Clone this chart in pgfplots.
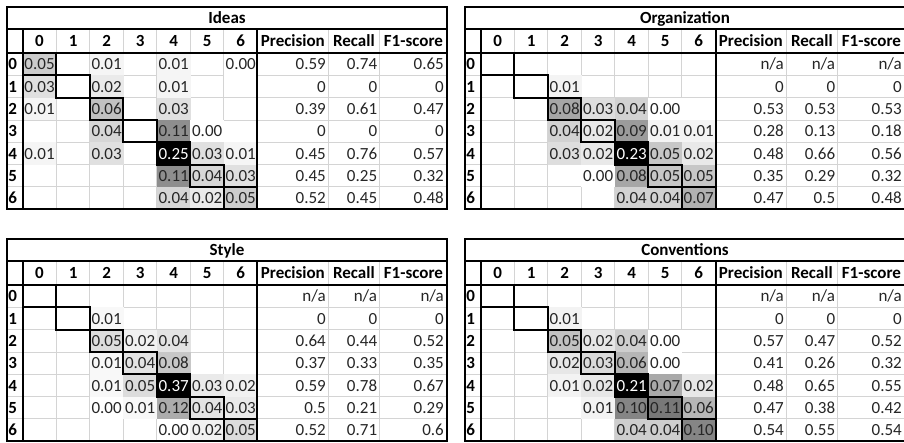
\documentclass[border=0pt]{standalone}
\usepackage{pgfplots}
\pgfplotsset{compat=1.18}
\usepackage{pgfplotstable}
\usepackage{fontspec}
\setmainfont{Carlito}
\definecolor{gridc}{HTML}{D4D4D4}
\definecolor{txt}{HTML}{262626}
\pgfdeclareplotmark{cell}{\pgfpathrectanglecorners{\pgfpoint{-8.45pt}{-5.65pt}}{\pgfpoint{8.45pt}{5.65pt}}\pgfusepathqfill}
\newcommand\cf{\fontsize{8.5}{10}\selectfont}

\pgfplotstableread{
c r v
0 0 0.05
2 0 0.01
4 0 0.01
6 0 0.00
0 1 0.03
2 1 0.02
4 1 0.01
0 2 0.01
2 2 0.06
4 2 0.03
2 3 0.04
4 3 0.11
5 3 0.00
0 4 0.01
2 4 0.03
4 4 0.25
5 4 0.03
6 4 0.01
4 5 0.11
5 5 0.04
6 5 0.03
4 6 0.04
5 6 0.02
6 6 0.05
}\ideasM
\pgfplotstableread{
r p rc f
0 0.59 0.74 0.65
1 0 0 0
2 0.39 0.61 0.47
3 0 0 0
4 0.45 0.76 0.57
5 0.45 0.25 0.32
6 0.52 0.45 0.48
}\ideasS

\pgfplotstableread{
c r v
2 1 0.01
2 2 0.08
3 2 0.03
4 2 0.04
5 2 0.00
2 3 0.04
3 3 0.02
4 3 0.09
5 3 0.01
6 3 0.01
2 4 0.03
3 4 0.02
4 4 0.23
5 4 0.05
6 4 0.02
3 5 0.00
4 5 0.08
5 5 0.05
6 5 0.05
4 6 0.04
5 6 0.04
6 6 0.07
}\orgM
\pgfplotstableread{
r p rc f
0 n/a n/a n/a
1 0 0 0
2 0.53 0.53 0.53
3 0.28 0.13 0.18
4 0.48 0.66 0.56
5 0.35 0.29 0.32
6 0.47 0.5 0.48
}\orgS

\pgfplotstableread{
c r v
2 1 0.01
2 2 0.05
3 2 0.02
4 2 0.04
2 3 0.01
3 3 0.04
4 3 0.08
2 4 0.01
3 4 0.05
4 4 0.37
5 4 0.03
6 4 0.02
2 5 0.00
3 5 0.01
4 5 0.12
5 5 0.04
6 5 0.03
4 6 0.00
5 6 0.02
6 6 0.05
}\styM
\pgfplotstableread{
r p rc f
0 n/a n/a n/a
1 0 0 0
2 0.64 0.44 0.52
3 0.37 0.33 0.35
4 0.59 0.78 0.67
5 0.5 0.21 0.29
6 0.52 0.71 0.6
}\styS

\pgfplotstableread{
c r v
2 1 0.01
2 2 0.05
3 2 0.02
4 2 0.04
5 2 0.00
2 3 0.02
3 3 0.03
4 3 0.06
5 3 0.00
2 4 0.01
3 4 0.02
4 4 0.21
5 4 0.07
6 4 0.02
3 5 0.01
4 5 0.10
5 5 0.11
6 5 0.06
4 6 0.04
5 6 0.04
6 6 0.10
}\conM
\pgfplotstableread{
r p rc f
0 n/a n/a n/a
1 0 0 0
2 0.57 0.47 0.52
3 0.41 0.26 0.32
4 0.48 0.65 0.55
5 0.47 0.38 0.42
6 0.54 0.55 0.54
}\conS

\tikzset{txtnode/.style={font=\cf, inner sep=0pt, text height=5.5pt, text depth=0pt},
  hd/.style={txtnode, font=\cf\bfseries, text=black}}
\pgfplotsset{panel/.style={hide axis, scale only axis, width=220.28pt, height=101.13pt,
  xmin=-0.48, xmax=12.66, ymin=-2.07, ymax=7, y dir=reverse, clip=false, anchor=north west,
  colormap={bw}{rgb255=(255,255,255) rgb255=(0,0,0)}, point meta min=0},
  thick line/.style={black, line width=1pt, mark=none, line cap=rect, line join=miter}}

\newcommand\panel[5]{%
\begin{axis}[panel, at={#1}, point meta max=#5]
% thin grid
\draw[gridc, line width=0.5pt] (axis cs:1,-1.08) -- (axis cs:1,7)
  (axis cs:2,-1.08) -- (axis cs:2,7) (axis cs:3,-1.08) -- (axis cs:3,7)
  (axis cs:4,-1.08) -- (axis cs:4,7) (axis cs:5,-1.08) -- (axis cs:5,7)
  (axis cs:6,-1.08) -- (axis cs:6,7) (axis cs:9.11,-1.08) -- (axis cs:9.11,7)
  (axis cs:10.64,-1.08) -- (axis cs:10.64,7)
  (axis cs:-0.48,1) -- (axis cs:12.66,1) (axis cs:-0.48,2) -- (axis cs:12.66,2)
  (axis cs:-0.48,3) -- (axis cs:12.66,3) (axis cs:-0.48,4) -- (axis cs:12.66,4)
  (axis cs:-0.48,5) -- (axis cs:12.66,5) (axis cs:-0.48,6) -- (axis cs:12.66,6);
% shaded cells
\addplot[scatter, only marks, mark=cell, point meta=explicit]
  table[x expr=\thisrow{c}+0.5, y expr=\thisrow{r}+0.5, meta=v] {#3};
% cell texts
\addplot[draw=none, mark=none, nodes near coords, point meta=explicit symbolic,
  restrict expr to domain={\thisrow{v}}{0:0.2},
  every node near coord/.append style={txtnode, anchor=center, text=txt}]
  table[x expr=\thisrow{c}+0.5, y expr=\thisrow{r}+0.5, meta=v] {#3};
\addplot[draw=none, mark=none, nodes near coords, point meta=explicit symbolic,
  restrict expr to domain={\thisrow{v}}{0.2:1},
  every node near coord/.append style={txtnode, anchor=center, text=white}]
  table[x expr=\thisrow{c}+0.5, y expr=\thisrow{r}+0.5, meta=v] {#3};
% metrics
\addplot[draw=none, mark=none, nodes near coords, point meta=explicit symbolic,
  every node near coord/.append style={txtnode, anchor=east, text=txt}]
  table[x expr=9.05, y expr=\thisrow{r}+0.5, meta=p] {#4};
\addplot[draw=none, mark=none, nodes near coords, point meta=explicit symbolic,
  every node near coord/.append style={txtnode, anchor=east, text=txt}]
  table[x expr=10.58, y expr=\thisrow{r}+0.5, meta=rc] {#4};
\addplot[draw=none, mark=none, nodes near coords, point meta=explicit symbolic,
  every node near coord/.append style={txtnode, anchor=east, text=txt}]
  table[x expr=12.57, y expr=\thisrow{r}+0.5, meta=f] {#4};
% headers
\node[hd] at (axis cs:6.09,-1.575) {#2};
\node[hd] at (axis cs:0.5,-0.54) {0};
\node[hd] at (axis cs:1.5,-0.54) {1};
\node[hd] at (axis cs:2.5,-0.54) {2};
\node[hd] at (axis cs:3.5,-0.54) {3};
\node[hd] at (axis cs:4.5,-0.54) {4};
\node[hd] at (axis cs:5.5,-0.54) {5};
\node[hd] at (axis cs:6.5,-0.54) {6};
\node[hd] at (axis cs:8.055,-0.54) {Precision};
\node[hd] at (axis cs:9.875,-0.54) {Recall};
\node[hd] at (axis cs:11.65,-0.54) {F1-score};
\node[hd, anchor=west] at (axis cs:-0.44,0.5) {0};
\node[hd, anchor=west] at (axis cs:-0.44,1.5) {1};
\node[hd, anchor=west] at (axis cs:-0.44,2.5) {2};
\node[hd, anchor=west] at (axis cs:-0.44,3.5) {3};
\node[hd, anchor=west] at (axis cs:-0.44,4.5) {4};
\node[hd, anchor=west] at (axis cs:-0.44,5.5) {5};
\node[hd, anchor=west] at (axis cs:-0.44,6.5) {6};
\end{axis}
% overlay axis with the thick rules, drawn on top of the shaded cells
\begin{axis}[panel, at={#1}]
\addplot[thick line] coordinates {(-0.48,-2.07) (12.66,-2.07) (12.66,7) (-0.48,7) (-0.48,-2.07)};
\addplot[thick line] coordinates {(-0.48,-1.08) (12.66,-1.08)};
\addplot[thick line] coordinates {(-0.48,0) (12.66,0)};
\addplot[thick line] coordinates {(0,-1.08) (0,7)};
\addplot[thick line] coordinates {(7,-1.08) (7,7)};
\addplot[thick line, line cap=butt] coordinates {(0,0) (1,0) (1,1) (2,1) (2,2) (3,2) (3,3) (4,3) (4,4) (5,4) (5,5) (6,5) (6,6) (7,6) (7,7)};
\addplot[thick line, line cap=butt] coordinates {(0,0) (0,1) (1,1) (1,2) (2,2) (2,3) (3,3) (3,4) (4,4) (4,5) (5,5) (5,6) (6,6) (6,7) (7,7)};
\end{axis}}

\begin{document}
\begin{tikzpicture}
\path[use as bounding box, fill=white] (0,0) rectangle (452pt,-221.5pt);
\panel{(3.35pt,-3.5pt)}{Ideas}{\ideasM}{\ideasS}{0.25}
\panel{(232.35pt,-3.5pt)}{Organization}{\orgM}{\orgS}{0.23}
\panel{(3.35pt,-119.5pt)}{Style}{\styM}{\styS}{0.37}
\panel{(232.35pt,-119.5pt)}{Conventions}{\conM}{\conS}{0.21}
\end{tikzpicture}
\end{document}
